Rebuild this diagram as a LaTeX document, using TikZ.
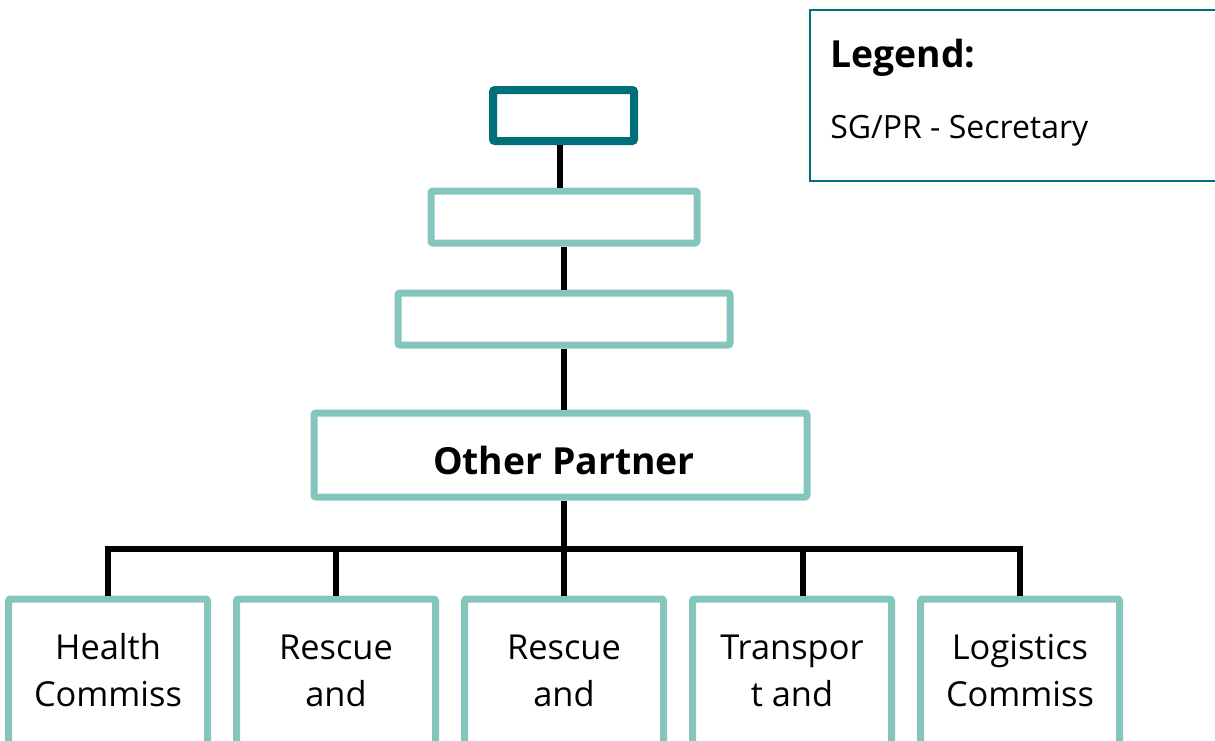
\documentclass[tikz,border=0pt]{standalone}
\usepackage{fontspec}
\setmainfont{Open Sans}
\definecolor{lteal}{RGB}{132,198,190}
\definecolor{dteal}{RGB}{0,112,120}
\begin{document}
\begin{tikzpicture}[x=0.75pt,y=-0.75pt,
  lbox/.style={draw=lteal, line width=5.25pt, rounded corners=1.5pt, fill=white, inner sep=0pt},
  dbox/.style={draw=dteal, line width=6pt, rounded corners=1.5pt, fill=white, inner sep=0pt},
  conn/.style={draw=black, line width=4pt, line join=miter},
  btext/.style={align=center, font=\fontsize{25.8}{35.25}\selectfont, inner sep=0pt, anchor=base},
  legbox/.style={draw=dteal, line width=1.5pt, inner sep=0pt, anchor=north west},
]
\useasboundingbox (0,0) rectangle (1215,740);
\clip (0,0) rectangle (1215,740);

% legend
\node[legbox, minimum width=315pt, minimum height=128.25pt] (legend) at (809,9) {};
\node[anchor=base west, inner sep=0pt, font=\fontsize{28}{30}\selectfont\bfseries] (legt) at (830,67) {Legend:};
\node[anchor=base west, inner sep=0pt, font=\fontsize{24}{28}\selectfont] (legs) at (830,138) {SG/PR - Secretary};

% upper chain
\node[dbox, minimum width=105.75pt, minimum height=38.25pt] (top) at (563.5,115.5) {};
\node[lbox, minimum width=199.5pt, minimum height=39pt] (box2) at (564,217) {};
\node[lbox, minimum width=249pt, minimum height=39pt] (box3) at (564,319) {};
\node[lbox, minimum width=369.75pt, minimum height=63pt] (box4) at (560.5,455) {};
\node[anchor=base, inner sep=0pt, font=\fontsize{28}{30}\selectfont\bfseries] (box4t) at (564,474) {Other Partner};

% bottom boxes
\foreach \i/\x in {1/108,2/336,3/564,4/792,5/1020}{
  \node[lbox, minimum width=149.25pt, minimum height=150.75pt] (b\i) at (\x,699.5) {};
}
\node[btext] (t1) at (108,706) {Health\\Commiss};
\node[btext] (t2) at (336,706) {Rescue\\and};
\node[btext] (t3) at (564,706) {Rescue\\and};
\node[btext] (t4) at (792,706) {Transpor\\t and};
\node[btext] (t5) at (1020,706) {Logistics\\Commiss};

% connectors
\coordinate (c1) at (560,0);
\coordinate (bus) at (564,549);
\coordinate (c4) at (803,0);
\draw[conn] (top.south -| c1) -- (box2.north -| c1);
\draw[conn] (box2.south) -- (box3.north);
\draw[conn] (box3.south) -- (box3.south |- box4.north);
\draw[conn] (box4.south -| bus) -- (bus);
\draw[conn] (b1.north) -- (b1.north |- bus) -- (b5.north |- bus) -- (b5.north);
\draw[conn] (b2.north |- bus) -- (b2.north);
\draw[conn] (b3.north |- bus) -- (b3.north);
\draw[conn] (c4 |- bus) -- (c4 |- b4.north);
\end{tikzpicture}
\end{document}
